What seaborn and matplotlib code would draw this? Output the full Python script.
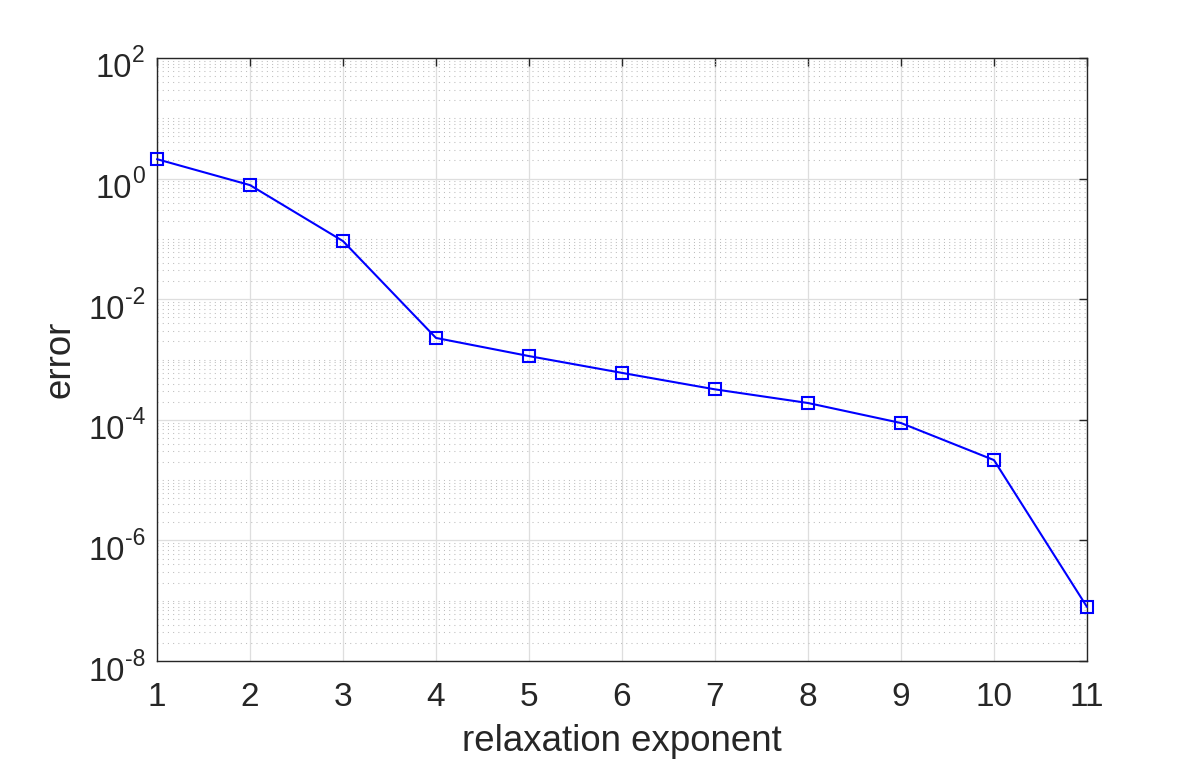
import numpy as np
import pandas as pd
import matplotlib
matplotlib.use("Agg")
import matplotlib.pyplot as plt
import matplotlib.ticker as mticker
import matplotlib.transforms as mtrans
import seaborn as sns

exponent = [1, 2, 3, 4, 5, 6, 7, 8, 9, 10, 11]
error = [2.1, 0.78, 0.092, 2.28e-3, 1.14e-3, 6.0e-4, 3.2e-4, 1.9e-4, 8.85e-5, 2.15e-5, 7.9e-8]
decade_labels = [-8, -6, -4, -2, 0, 2]

sns.set_theme(style="white")
plt.rcParams['font.family'] = ['Liberation Sans', 'DejaVu Sans']

TXT = "#262626"
df = pd.DataFrame({"x": exponent, "y": error})

fig = plt.figure(figsize=(12.02, 7.62), dpi=100)
ax = fig.add_axes([0.1306, 0.1325, 0.9043 - 0.1306, 0.9239 - 0.1325])

sns.lineplot(data=df, x="x", y="y", ax=ax, color="#0000ff", linewidth=1.5,
             marker="s", markersize=8, markerfacecolor="none",
             markeredgecolor="#0000ff", markeredgewidth=1.5, zorder=5, clip_on=False)

ax.set_yscale("log")
ax.set_xlim(1, 11)
ax.set_ylim(1e-8, 1e2)
ax.set_xticks(exponent)
ax.yaxis.set_major_locator(mticker.FixedLocator([10.0**k for k in decade_labels]))
ax.yaxis.set_major_formatter(mticker.NullFormatter())
minors = []
for k in range(-8, 2):
    for m in range(1, 10):
        if m == 1 and k % 2 == 0:
            continue
        minors.append(m * 10.0**k)
ax.yaxis.set_minor_locator(mticker.FixedLocator(minors))
ax.yaxis.set_minor_formatter(mticker.NullFormatter())

ax.grid(True, which="major", color="#dedede", linewidth=0.9, linestyle="-")
ax.grid(True, which="minor", axis="y", color="#bdbdbd", linewidth=0.75, linestyle=(0, (1, 4)))
ax.set_axisbelow(True)

for s in ax.spines.values():
    s.set_visible(True)
    s.set_color(TXT)
    s.set_linewidth(1.0)

ax.tick_params(axis="both", which="major", direction="in", length=6, width=1.0,
               colors=TXT, top=True, right=True)
ax.tick_params(axis="x", which="major", labelsize=24, pad=15)
ax.tick_params(axis="y", which="minor", length=0)

ax.set_xlabel("relaxation exponent", fontsize=26.4, color=TXT)
ax.set_ylabel("error", fontsize=26.4, color=TXT)
ax.xaxis.set_label_coords(0.5, -0.105)
ax.yaxis.set_label_coords(-0.085, 0.5)

# y tick labels in MATLAB style: "10" with a raised exponent
renderer = fig.canvas.get_renderer()
ytrans = ax.get_yaxis_transform()
for k in decade_labels:
    off_e = mtrans.ScaledTranslation(-12 / 100, -4.5 / 100, fig.dpi_scale_trans)
    te = ax.text(0, 10.0**k, str(k), transform=ytrans + off_e, ha="right",
                 va="baseline", fontsize=16.5, color=TXT)
    w = te.get_window_extent(renderer).width
    off_b = mtrans.ScaledTranslation((-12 - w) / 100, -19.5 / 100, fig.dpi_scale_trans)
    ax.text(0, 10.0**k, "10", transform=ytrans + off_b, ha="right",
            va="baseline", fontsize=23.5, color=TXT)

fig.savefig("out.png", dpi=100, facecolor="white")
